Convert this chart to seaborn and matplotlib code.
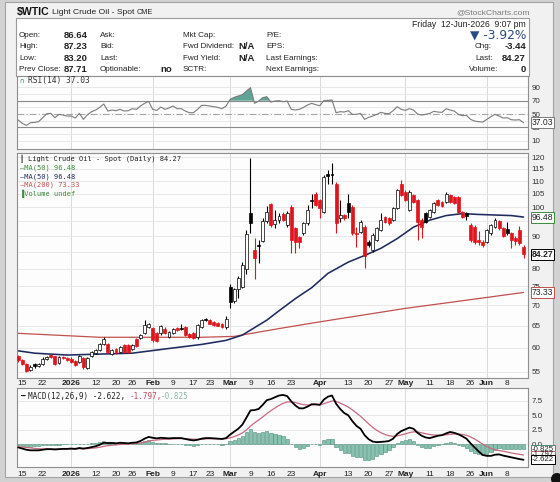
import numpy as np
import pandas as pd
import matplotlib
matplotlib.use("Agg")
import matplotlib.pyplot as plt
import seaborn as sns
from matplotlib import font_manager
from matplotlib.patches import Rectangle, Circle
from matplotlib.ticker import FuncFormatter, NullLocator

sns.set_theme(style="white")
_names = {f.name for f in font_manager.fontManager.ttflist}
SANS = "Liberation Sans Narrow" if "Liberation Sans Narrow" in _names else "Liberation Sans"
plt.rcParams["font.family"] = [SANS, "DejaVu Sans"]
MONO = ["DejaVu Sans Mono", "DejaVu Sans"]

# ---------------- data ----------------
start_date, end_date = "2025-12-12", "2026-06-12"
holidays = ["2025-12-25", "2026-01-01", "2026-01-19", "2026-02-16", "2026-04-03", "2026-05-25"]
prev_close_first = 58.4

opens = [58.2,57.3,56.6,55.3,56.5,56.1,56.5,57.6,58.5,58.1,
         56.7,58.0,57.8,57.5,57.2,57.0,57.7,55.8,58.1,58.8,
         59.5,60.8,60.7,58.7,59.7,59.1,60.5,60.5,59.6,61.8,
         62.2,63.2,64.7,64.4,63.2,63.2,64.3,62.4,63.2,64.4,
         64.3,64.7,63.0,63.2,62.3,64.7,66.6,66.3,65.9,65.7,
         65.5,64.7,74.9,71.1,74.2,74.9,80.0,97.8,85.6,87.3,
         88.4,95.2,101.0,94.0,95.3,97.5,93.7,100.2,92.6,89.6,
         90.9,94.3,102.8,105.1,102.6,98.4,112.6,112.6,109.0,96.0,
         97.2,101.4,100.2,90.9,91.5,93.2,88.2,85.6,88.8,92.1,
         96.6,96.0,95.4,99.6,109.0,105.8,99.0,104.5,102.6,95.4,
         97.8,96.6,98.4,102.6,101.9,102.0,104.5,103.9,103.9,98.4,
         98.0,93.7,93.2,88.8,88.2,88.2,90.9,93.2,95.1,92.6,
         92.4,90.9,89.5,92.1,86.64]
highs = [58.5,57.6,56.8,56.3,56.7,56.8,57.9,58.3,58.7,58.3,
         58.3,58.1,58.0,57.9,57.4,58.5,58.0,58.0,59.3,59.8,
         61.1,62.3,61.0,59.7,59.9,60.4,60.7,60.7,60.8,62.2,
         63.0,66.3,65.6,64.7,63.4,65.1,64.6,63.7,64.5,64.6,
         65.5,64.9,63.2,63.4,65.3,66.6,66.8,66.6,66.1,65.9,
         65.7,67.2,75.5,74.6,77.8,82.0,92.0,119.5,89.3,88.6,
         96.0,100.5,101.7,99.0,98.0,98.2,98.5,100.8,93.0,90.0,
         94.8,100.8,105.1,105.6,103.0,112.4,114.5,117.3,109.5,102.6,
         97.5,105.1,100.8,93.2,95.5,93.6,88.8,91.0,93.0,97.8,
         97.0,96.4,100.0,106.9,110.6,106.3,106.4,105.0,103.0,96.0,
         98.2,99.4,101.8,103.0,102.3,105.6,104.9,104.3,104.3,98.8,
         98.4,94.3,93.6,91.7,88.6,92.5,94.1,96.0,95.5,93.0,
         94.9,91.3,89.9,93.4,87.23]
lows = [57.0,56.4,55.0,55.1,55.8,55.9,56.4,57.4,57.8,56.4,
        56.5,57.6,57.2,56.8,56.1,56.8,55.6,55.6,57.9,58.6,
        59.3,60.6,58.8,58.4,58.6,58.9,58.9,58.8,59.4,60.2,
        62.0,63.0,64.4,61.3,61.2,62.9,63.0,62.2,63.0,63.7,
        63.9,62.6,62.2,61.9,62.0,64.5,66.1,65.3,64.9,64.8,
        64.5,64.2,69.2,70.5,71.9,74.5,78.5,90.9,77.0,81.5,
        88.0,94.5,93.0,92.8,94.5,95.0,93.2,84.6,84.6,86.1,
        90.5,93.8,99.6,100.3,96.0,97.8,109.0,109.0,90.9,94.9,
        95.5,96.0,90.5,86.6,91.0,80.1,86.5,85.0,88.3,91.8,
        94.5,93.9,95.0,99.2,104.0,102.2,98.5,101.6,88.8,89.3,
        94.3,96.2,98.0,100.4,100.2,101.6,101.6,101.0,97.8,96.0,
        95.5,88.2,87.6,87.2,86.6,87.8,90.5,92.8,92.2,89.8,
        90.5,86.3,87.2,87.3,83.20]
closes = [57.3,56.6,55.2,56.0,56.2,56.5,57.6,58.0,57.9,56.6,
          58.0,57.8,57.4,57.0,56.3,58.2,56.0,57.7,59.1,59.5,
          60.9,61.8,59.0,59.4,59.0,60.2,59.1,59.0,60.6,60.4,
          62.8,65.1,65.3,61.7,61.5,64.8,63.3,63.4,64.3,63.9,
          64.1,62.8,62.4,62.1,65.1,66.3,66.4,65.5,65.1,65.0,
          64.7,66.7,70.9,74.2,77.2,81.0,90.8,94.3,83.0,86.8,
          95.1,98.3,93.7,95.3,96.8,95.5,97.8,88.8,88.2,88.0,
          94.3,99.0,102.4,100.8,99.6,111.7,112.2,112.3,94.3,97.2,
          96.0,98.4,90.9,90.7,94.9,83.6,87.1,90.4,92.6,95.4,
          94.9,94.3,99.6,106.4,104.5,102.6,105.8,102.0,94.9,92.9,
          94.9,99.0,101.4,100.8,100.5,105.1,102.0,101.4,98.4,96.6,
          96.8,88.8,88.2,88.0,87.1,92.1,93.7,95.4,92.6,90.2,
          90.9,88.8,88.3,87.71,84.27]

ma50_dates = ["2025-12-12","2025-12-18","2025-12-31","2026-01-13","2026-01-26","2026-02-05",
              "2026-02-19","2026-02-27","2026-03-05","2026-03-13","2026-03-18","2026-03-24",
              "2026-03-30","2026-04-06","2026-04-13","2026-04-17","2026-04-23","2026-04-29",
              "2026-05-05","2026-05-11","2026-05-15","2026-05-21","2026-05-28","2026-06-03",
              "2026-06-09","2026-06-12"]
ma50_vals = [59.3,58.8,58.4,58.6,58.8,59.7,60.7,61.6,62.8,66.3,68.6,71.7,74.6,78.6,
             81.9,83.9,86.1,89.2,93.0,95.4,97.0,97.7,97.4,97.2,97.0,96.48]
ma200_dates = ["2025-12-12","2026-01-13","2026-02-19","2026-03-03","2026-03-18",
               "2026-04-01","2026-05-01","2026-05-22","2026-06-12"]
ma200_vals = [63.2,62.3,62.3,62.5,64.3,65.9,69.2,71.3,73.33]

rsi = [41,36,33,37,37.5,38.5,44.5,50.5,51,44.5,
       49.5,48.5,47,47,44,51,42,49,53.5,56,
       60,65,54.5,56,55,57,54.5,55,58,57,
       62,66,69,57,55.5,60.5,57,59,62,58,
       58,54.5,52,52,57,63,63,62,61,60,
       58,62,72,75,77,79,84.5,89.5,66,69.5,
       74.5,76,68,69.5,70,68.5,69.5,57,56,57,
       60,63.5,66,64,62.5,70,70.5,71,52,53.5,
       53,55,49.5,49.5,51,42,45,47,49.5,52.5,
       51,50.5,55,61,57,55.5,58,56,50,48.5,
       49.5,51,54,53,52.5,58,56,54.5,49.5,47.5,
       48,42,39.5,38.5,38,42,46,49.5,47,44,
       44.5,41.5,41,41.5,37.03]

macd = [-0.50,-0.70,-0.90,-1.00,-1.00,-1.00,-0.90,-0.80,-0.80,-0.85,
        -0.80,-0.75,-0.75,-0.70,-0.75,-0.60,-0.70,-0.60,-0.45,-0.30,
        -0.05,0.30,0.25,0.25,0.20,0.30,0.25,0.20,0.30,0.35,
        0.60,1.00,1.30,1.15,1.05,1.15,1.10,1.05,1.10,1.10,
        1.10,0.95,0.80,0.70,0.80,1.00,1.10,1.10,1.05,1.00,
        0.95,1.10,1.70,2.20,2.70,3.40,4.60,5.85,5.90,6.10,
        6.80,7.60,7.80,8.10,8.40,8.50,8.30,7.40,6.70,6.20,
        6.20,6.50,6.90,6.90,6.80,7.70,8.20,8.40,7.00,6.10,
        5.40,5.00,4.00,3.20,2.70,1.60,0.90,0.50,0.40,0.45,
        0.50,0.60,1.00,1.80,2.30,2.60,2.90,2.70,2.00,1.50,
        1.20,1.10,1.30,1.50,1.60,1.90,2.15,2.00,1.75,1.40,
        1.00,0.20,-0.50,-1.20,-1.80,-1.95,-1.95,-1.75,-1.70,-1.90,
        -2.05,-2.20,-2.35,-2.50,-2.622]
signal = [-0.40,-0.44,-0.51,-0.58,-0.66,-0.73,-0.76,-0.77,-0.78,-0.79,
          -0.79,-0.78,-0.78,-0.76,-0.76,-0.73,-0.72,-0.70,-0.65,-0.58,
          -0.47,-0.32,-0.21,-0.12,-0.06,0.01,0.06,0.09,0.13,0.17,
          0.26,0.41,0.59,0.70,0.77,0.85,0.90,0.93,0.96,0.99,
          1.01,1.00,0.96,0.91,0.89,0.91,0.95,0.98,0.99,0.99,
          0.98,1.00,1.14,1.35,1.62,1.98,2.50,3.17,3.72,4.20,
          4.72,5.30,5.80,6.26,6.69,7.05,7.30,7.32,7.20,7.00,
          6.84,6.77,6.80,6.82,6.81,6.99,7.23,7.47,7.38,7.12,
          6.78,6.42,5.94,5.39,4.85,4.20,3.54,2.93,2.43,2.03,
          1.72,1.50,1.40,1.48,1.64,1.83,2.04,2.17,2.14,2.01,
          1.85,1.70,1.62,1.60,1.60,1.66,1.76,1.81,1.80,1.72,
          1.58,1.30,0.94,0.51,0.05,-0.35,-0.67,-0.89,-1.05,-1.15,
          -1.30,-1.45,-1.58,-1.69,-1.797]
hist = [-0.10,-0.26,-0.39,-0.42,-0.34,-0.27,-0.14,-0.03,-0.02,-0.06,
        -0.01,0.03,0.03,0.06,0.01,0.13,0.02,0.10,0.20,0.28,
        0.42,0.62,0.46,0.37,0.26,0.29,0.19,0.11,0.17,0.18,
        0.34,0.59,0.71,0.45,0.28,0.30,0.20,0.12,0.14,0.11,
        0.09,-0.05,-0.16,-0.21,-0.09,0.09,0.15,0.12,0.06,0.01,
        -0.03,0.10,0.56,0.85,1.08,1.42,2.10,2.68,2.18,1.90,
        2.08,2.30,2.00,1.84,1.71,1.45,1.00,0.08,-0.50,-0.80,
        -0.64,-0.27,0.10,0.08,-0.01,0.71,0.97,0.93,-0.38,-1.02,
        -1.38,-1.42,-1.94,-2.19,-2.15,-2.60,-2.64,-2.43,-2.03,-1.58,
        -1.22,-0.90,-0.40,0.32,0.66,0.77,0.86,0.53,-0.14,-0.51,
        -0.65,-0.60,-0.32,-0.10,0.00,0.24,0.39,0.19,-0.05,-0.32,
        -0.58,-1.10,-1.44,-1.71,-1.85,-1.60,-1.28,-0.86,-0.65,-0.75,
        -0.75,-0.75,-0.77,-0.81,-0.825]

tick_dates = ["2025-12-15","2025-12-22","2026-01-02","2026-01-12","2026-01-20","2026-01-26",
              "2026-02-02","2026-02-09","2026-02-17","2026-02-23","2026-03-02","2026-03-09",
              "2026-03-16","2026-03-23","2026-04-01","2026-04-13","2026-04-20","2026-04-27",
              "2026-05-01","2026-05-11","2026-05-18","2026-05-26","2026-06-01","2026-06-08"]
tick_labels = ["15","22","2026","12","20","26","Feb","9","17","23","Mar","9","16","23",
               "Apr","13","20","27","May","11","18","26","Jun","8"]
month_dates = ["2026-01-02","2026-02-02","2026-03-02","2026-04-01","2026-05-01","2026-06-01"]
price_ticks = [55,60,65,70,75,80,90,95,100,105,110,115,120]
price_grid = [55,60,65,70,75,80,85,90,95,100,105,110,115,120]
rsi_ticks = [10,30,50,70,90]
macd_ticks = [0.0,2.5,5.0,7.5]

# ---------------- helpers ----------------
days = pd.bdate_range(start_date, end_date)
days = days[~days.isin(pd.to_datetime(holidays))]
pos = {d: i for i, d in enumerate(days)}
def tpos(ds):
    return np.array([pos[pd.Timestamp(d)] for d in ds])

x = np.arange(len(days))
o = np.array(opens); h = np.array(highs); l = np.array(lows); c = np.array(closes)
prev = np.concatenate([[prev_close_first], c[:-1]])

W, H = 560, 482
def rect(lft, top, rgt, bot):
    return [lft / W, 1 - bot / H, (rgt - lft) / W, (bot - top) / H]

RED = "#e0141b"
GRID = "#e4e4e4"
VGRID = "#d9d9d9"
SPINE = "#8f8f8f"
TEAL = "#86c2ae"
TEAL_E = "#4d8c79"
NAVY = "#1f2b5e"
MA200C = "#c0504d"
GREEN = "#3b8c3b"

fig = plt.figure(figsize=(W / 100, H / 100), dpi=100)
fig.patch.set_facecolor("#d2d2d2")

bg = fig.add_axes([0, 0, 1, 1])
bg.set_xlim(0, W); bg.set_ylim(H, 0); bg.axis("off"); bg.set_zorder(0)
bg.add_patch(Rectangle((5, 2), 548, 475, fc="#f1f1f1", ec="#a3a3a3", lw=0.8))
bg.add_patch(Rectangle((16, 18.3), 513, 57.7, fc="white", ec="#9a9a9a", lw=0.8))
bg.add_patch(Circle((557, 479), 6, fc="#111111", ec="none", clip_on=False))

ax_r = fig.add_axes(rect(17, 76, 528, 149))
ax_p = fig.add_axes(rect(17, 153, 528, 378))
ax_m = fig.add_axes(rect(17, 388, 528, 467))
xlim = (-0.3, 125.1)
mpos = tpos(month_dates)
tp = tpos(tick_dates)

for ax in (ax_r, ax_p, ax_m):
    ax.set_zorder(2)
    ax.set_facecolor("#fdfdfd")
    ax.set_xlim(*xlim)
    for s in ax.spines.values():
        s.set_color(SPINE); s.set_linewidth(0.8); s.set_visible(True)
    ax.yaxis.tick_right()
    ax.tick_params(axis="y", length=0, pad=2.5, labelsize=5.8, labelcolor="#333333")
    ax.tick_params(axis="x", length=0, pad=1.2, labelsize=6, labelcolor="#222222")
    for m in mpos:
        ax.axvline(m, color=VGRID, lw=0.7, zorder=0)
ax_m.tick_params(axis="x", pad=2.6)

# ---- RSI ----
ax_r.set_ylim(-2.4, 107)
ax_r.set_yticks(rsi_ticks)
for v in [10, 20, 40, 60, 80, 90]:
    ax_r.axhline(v, color=GRID, lw=0.6, zorder=0)
ax_r.axhline(70, color="#8a8a8a", lw=0.8, zorder=1)
ax_r.axhline(30, color="#8a8a8a", lw=0.8, zorder=1)
ax_r.axhline(50, color="#a5a5a5", lw=0.8, ls=(0, (6, 2, 1, 2)), zorder=1)
rsi_a = np.array(rsi)
ax_r.fill_between(x, rsi_a, 70, where=rsi_a > 70, interpolate=True, color="#5fa595", lw=0, zorder=2)
sns.lineplot(x=x, y=rsi_a, ax=ax_r, color="#7b7b7b", lw=0.8, estimator=None, sort=False, legend=False, zorder=3)
ax_r.set_xticks(tp); ax_r.set_xticklabels([])
ax_r.set_xlabel(""); ax_r.set_ylabel("")

# ---- price ----
ax_p.set_yscale("log")
ax_p.set_ylim(53.72, 121.8)
ax_p.set_yticks(price_ticks)
ax_p.yaxis.set_major_formatter(FuncFormatter(lambda v, _: f"{v:g}"))
ax_p.yaxis.set_minor_locator(NullLocator())
for v in price_grid:
    ax_p.axhline(v, color=GRID, lw=0.6, zorder=0)

sns.lineplot(x=tpos(ma200_dates), y=ma200_vals, ax=ax_p, color=MA200C, lw=0.9,
             estimator=None, sort=False, legend=False, zorder=2)
sns.lineplot(x=tpos(ma50_dates), y=ma50_vals, ax=ax_p, color=NAVY, lw=1.15,
             estimator=None, sort=False, legend=False, zorder=2)

edge = np.where(c < prev, RED, "black")
filled = c < o
face = np.where(filled, edge, "white")
ax_p.vlines(x, l, h, colors=edge, lw=0.8, zorder=3)
bot = np.minimum(o, c)
hgt = np.maximum(np.abs(c - o), c * 0.004)
ax_p.bar(x, hgt, bottom=bot, width=0.72, color=face, edgecolor=edge, linewidth=0.5, zorder=4)
ax_p.set_xticks(tp); ax_p.set_xticklabels(tick_labels)
ax_p.set_xlabel(""); ax_p.set_ylabel("")

# ---- MACD ----
ax_m.set_ylim(-3.86, 9.69)
ax_m.set_yticks(macd_ticks)
ax_m.yaxis.set_major_formatter(FuncFormatter(lambda v, _: f"{v:.1f}"))
for v in macd_ticks:
    ax_m.axhline(v, color=GRID, lw=0.6, zorder=0)
ax_m.bar(x, hist, width=0.8, color=TEAL, edgecolor=TEAL_E, linewidth=0.4, zorder=2)
sns.lineplot(x=x, y=signal, ax=ax_m, color="#c7697e", lw=0.9, estimator=None, sort=False, legend=False, zorder=3)
sns.lineplot(x=x, y=macd, ax=ax_m, color="black", lw=1.3, estimator=None, sort=False, legend=False, zorder=4)
ax_m.set_xticks(tp); ax_m.set_xticklabels(tick_labels)
ax_m.set_xlabel(""); ax_m.set_ylabel("")

for ax in (ax_p, ax_m):
    for lbl, t in zip(ax.get_xticklabels(), tick_labels):
        if not t.isdigit() or len(t) == 4:
            lbl.set_fontweight("bold")

# ---- value tags ----
def tag(ax, y, text, ec, bold=False, fs=6.2):
    ax.annotate(text, xy=(1.0, y), xycoords=("axes fraction", "data"), xytext=(2.6, 0),
                textcoords="offset points", ha="left", va="center", fontsize=fs,
                fontweight="bold" if bold else "normal", color="#222222",
                bbox=dict(boxstyle="square,pad=0.12", fc="white", ec=ec, lw=0.7),
                annotation_clip=False, zorder=20)

tag(ax_r, rsi[-1], f"{rsi[-1]:.2f}", "#7b7b7b")
tag(ax_p, ma50_vals[-1], f"{ma50_vals[-1]:.2f}", GREEN)
tag(ax_p, closes[-1], f"{closes[-1]:.2f}", "black", bold=True)
tag(ax_p, ma200_vals[-1], f"{ma200_vals[-1]:.2f}", MA200C)
tag(ax_m, hist[-1], f"{hist[-1]:.3f}", TEAL_E, fs=5.6)
tag(ax_m, signal[-1], f"{signal[-1]:.3f}", "#c7697e", fs=5.6)
tag(ax_m, macd[-1], f"{macd[-1]:.3f}", "black", fs=5.6)

# ---------------- text overlay ----------------
fg = fig.add_axes([0, 0, 1, 1])
fg.set_xlim(0, W); fg.set_ylim(H, 0); fg.axis("off"); fg.set_zorder(10)
fg.patch.set_alpha(0)

def T(xp, yp, s, **kw):
    kw.setdefault("va", "center")
    kw.setdefault("fontsize", 6)
    kw.setdefault("color", "#222222")
    fg.text(xp, yp, s, **kw)

T(16.5, 12.5, "$WTIC", fontsize=7.6, fontweight="bold", color="#111111")
T(52, 12.8, "Light Crude Oil - Spot", fontsize=6.1)
T(136.5, 13, "CME", fontsize=5.2)
T(530, 12.5, "@StockCharts.com", fontsize=6.1, color="#7a7a7a", ha="right")

rows = [35.2, 46.7, 58.2, 69.3]
T(526, 24.5, "Friday  12-Jun-2026  9:07 pm", fontsize=6.2, ha="right")
for lab, val, yy in zip(["Open:", "High:", "Low:", "Prev Close:"],
                        ["86.64", "87.23", "83.20", "87.71"], rows):
    T(19, yy, lab, fontsize=5.9)
    T(88, yy, val, fontsize=6.8, fontweight="bold", ha="right")
for lab, yy in zip(["Ask:", "Bid:", "Last:", "Optionable:"], rows):
    T(100, yy, lab, fontsize=5.9)
T(172, rows[3], "no", fontsize=6.8, fontweight="bold", ha="right")
for lab, yy in zip(["Mkt Cap:", "Fwd Dividend:", "Fwd Yield:", "SCTR:"], rows):
    T(183, yy, lab, fontsize=5.9)
T(255, rows[1], "N/A", fontsize=6.8, fontweight="bold", ha="right")
T(255, rows[2], "N/A", fontsize=6.8, fontweight="bold", ha="right")
for lab, yy in zip(["P/E:", "EPS:", "Last Earnings:", "Next Earnings:"], rows):
    T(266, yy, lab, fontsize=5.9)
T(526, 35, "\u25bc -3.92%", fontsize=8.8, ha="right", color="#2b4a86",
  family=["DejaVu Sans"])
T(475, rows[1], "Chg:", fontsize=5.9)
T(526, rows[1], "-3.44", fontsize=6.8, fontweight="bold", ha="right")
T(475, rows[2], "Last:", fontsize=5.9)
T(526, rows[2], "84.27", fontsize=6.8, fontweight="bold", ha="right")
T(469, rows[3], "Volume:", fontsize=5.9)
T(526, rows[3], "0", fontsize=6.8, fontweight="bold", ha="right")

# panel legends
T(19.5, 81, "\u2229", fontsize=5.2, color="#3f8f7a", family=MONO)
T(27.5, 81, f"RSI(14) {rsi[-1]:.2f}", fontsize=5.7, family=MONO, color="#333333")
T(19.5, 159, "\u2503", fontsize=5, color="#333333", family=MONO)
T(28, 159, f"Light Crude Oil - Spot (Daily) {closes[-1]:.2f}", fontsize=5.05, family=MONO, color="#222222")
T(19.5, 167.8, f"\u2014MA(50) {ma50_vals[-1]:.2f}", fontsize=5.05, family=MONO, color=GREEN)
T(19.5, 176.6, f"\u2014MA(50) {ma50_vals[-1]:.2f}", fontsize=5.05, family=MONO, color=NAVY)
T(19.5, 185.2, f"\u2014MA(200) {ma200_vals[-1]:.2f}", fontsize=5.05, family=MONO, color=MA200C)
T(19.5, 193.5, "\u2590Volume undef", fontsize=5.05, family=MONO, color=GREEN)

T(21, 396.5, "\u2014", fontsize=5.6, family=MONO, color="black", fontweight="bold")
fg.text(28, 396.5, f"MACD(12,26,9) {macd[-1]:.3f},", fontsize=5.5, family=MONO, color="#222222", va="center")
fg.text(130, 396.5, f"{signal[-1]:.3f},", fontsize=5.5, family=MONO, color="#c04a5e", va="center")
fg.text(161, 396.5, f"{hist[-1]:.3f}", fontsize=5.5, family=MONO, color="#8fb5aa", va="center")

fig.savefig("out.png", dpi=100, facecolor=fig.get_facecolor())
